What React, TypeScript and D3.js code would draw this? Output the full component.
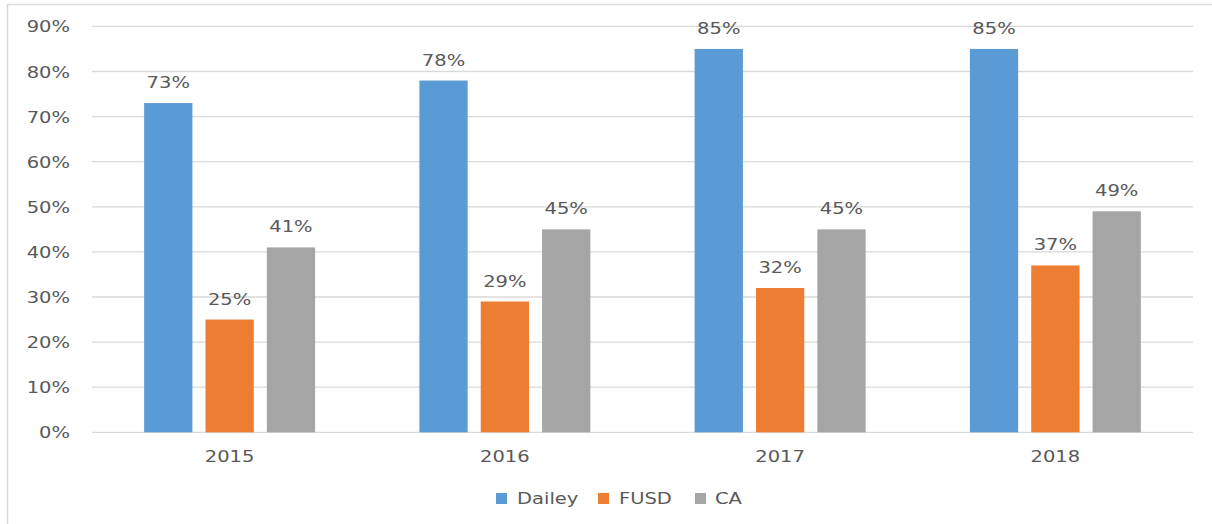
import React from 'react';
import * as d3 from 'd3';

const years = ['2015', '2016', '2017', '2018'];
const seriesNames = ['Dailey', 'FUSD', 'CA'];
const dailey = [73, 78, 85, 85];
const fusd = [25, 29, 32, 37];
const ca = [41, 45, 45, 49];
const yTicks = [0, 10, 20, 30, 40, 50, 60, 70, 80, 90];
const colors = ['#5B9BD5', '#ED7D31', '#A5A5A5'];

const W = 1212;
const H = 524;
const m = { t: 26.4, r: 19, b: 91.7, l: 92 };
const FONT = 'DejaVu Sans, Verdana, sans-serif';
const SX = 1.22; // the reference text is stretched horizontally

export default function App() {
  const values = [dailey, fusd, ca];

  const x0 = d3.scaleBand().domain(years).range([m.l, W - m.r]).padding(0);
  const x1 = d3.scaleBand().domain(seriesNames).range([-85.5, 85.5]).paddingInner(0.213).paddingOuter(0);
  const y = d3.scaleLinear().domain([0, 90]).range([H - m.b, m.t]);

  const txt = (x: number, yy: number, s: string, anchor: string, size = 16) => (
    <text
      transform={`translate(${x},${yy}) scale(${SX},1)`}
      textAnchor={anchor}
      fontFamily={FONT}
      fontSize={size}
      fill="#595959"
    >
      {s}
    </text>
  );

  // legend layout
  const legendItems = [
    { sq: 496, tx: 517 },
    { sq: 598, tx: 619 },
    { sq: 695, tx: 715 },
  ];

  return (
    <svg width={W} height={H} style={{ position: 'absolute', left: 0, top: 0, background: '#fff' }}>
      <rect x={7.5} y={4.5} width={1400} height={700} fill="#fff" stroke="#D9D9D9" strokeWidth={1.5} />

      {/* gridlines + y labels */}
      {yTicks.map(t => (
        <g key={t}>
          <line x1={m.l} x2={W - m.r} y1={y(t)} y2={y(t)} stroke="#D9D9D9" strokeWidth={1.3} />
          {txt(70, y(t) + 6, `${t}%`, 'end')}
        </g>
      ))}

      {/* bars */}
      {years.map((yr, i) => {
        const cx = (x0(yr) as number) + x0.bandwidth() / 2;
        return (
          <g key={yr}>
            {seriesNames.map((s, j) => {
              const v = values[j][i];
              const bx = cx + (x1(s) as number);
              return (
                <g key={s}>
                  <rect x={bx} y={y(v)} width={x1.bandwidth()} height={y(0) - y(v)} fill={colors[j]} />
                  {txt(bx + x1.bandwidth() / 2, y(v) - 15, `${v}%`, 'middle')}
                </g>
              );
            })}
            {txt(cx, y(0) + 30, yr, 'middle')}
          </g>
        );
      })}

      {/* legend */}
      {seriesNames.map((s, j) => (
        <g key={s}>
          <rect x={legendItems[j].sq} y={493} width={11} height={11} fill={colors[j]} />
          {txt(legendItems[j].tx, 504, s, 'start')}
        </g>
      ))}
    </svg>
  );
}
